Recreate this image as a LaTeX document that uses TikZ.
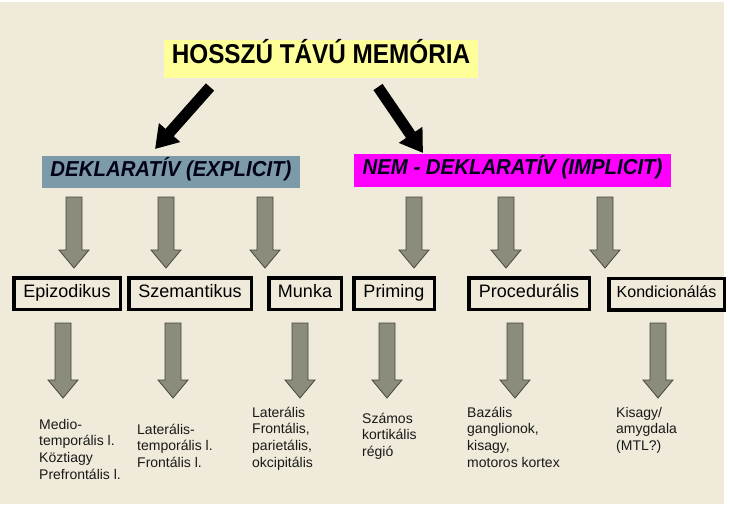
\documentclass[tikz,border=0pt]{standalone}
\usepackage{fontspec}
\setmainfont{Liberation Sans}
\usetikzlibrary{arrows.meta}
\definecolor{bg}{RGB}{239,234,217}
\definecolor{ttl}{RGB}{255,255,153}
\definecolor{slate}{RGB}{124,154,170}
\definecolor{mag}{RGB}{255,0,255}
\definecolor{garrow}{RGB}{140,140,124}
\definecolor{gline}{RGB}{70,70,60}
\begin{document}
\begin{tikzpicture}[x=1pt,y=-1pt,
  headbox/.style={inner sep=0pt,text height=0.8em,text depth=0pt},
  catbox/.style={draw=black,line width=3.5pt,minimum height=31.5pt,inner sep=0pt,
    text height=0.716em,text depth=0pt,font=\fontsize{18}{20}\selectfont},
  region/.style={anchor=north west,align=left,inner sep=0pt,text=black!90,
    font=\fontsize{14}{16.7}\selectfont},
  bigarrow/.style={line width=11pt,-{Triangle[length=22pt,width=27pt]}},
  downarrow/.pic={\draw[fill=garrow,draw=gline,line width=0.8pt]
    (-8,0) -- (8,0) -- (8,#1) -- (15,#1) -- (0,#1+18) -- (-15,#1) -- (-8,#1) -- cycle;}
]
\useasboundingbox (0,0) rectangle (730,504);
\fill[white] (0,0) rectangle (730,504);
\fill[bg] (0,2) rectangle (724,504);

% top level
\node[headbox,fill=ttl,minimum width=314pt,minimum height=38pt,
  font=\bfseries\fontsize{24.3}{26}\selectfont] (ltm) at (321,59) {\scalebox{1}[1.12]{HOSSZÚ TÁVÚ MEMÓRIA}};

% second level
\node[headbox,fill=slate,minimum width=258pt,minimum height=32pt,
  font=\bfseries\itshape\fontsize{20.4}{22}\selectfont,text=black!90!blue] (dek) at (171,172) {\scalebox{1}[1.06]{DEKLARATÍV (EXPLICIT)}};
\node[headbox,fill=mag,minimum width=317pt,minimum height=33pt,
  font=\bfseries\itshape\fontsize{20.4}{22}\selectfont,text=black!90!blue] (nemdek) at (512.5,170.5) {\scalebox{1}[1.06]{NEM - DEKLARATÍV (IMPLICIT)}};

% black arrows
\coordinate (la) at (210,87);
\coordinate (lb) at (155,149);
\coordinate (ra) at (378,87);
\coordinate (rb) at (423,153);
\draw[bigarrow] (la) -- (lb);
\draw[bigarrow] (ra) -- (rb);

% first row of grey arrows
\foreach \x in {74,166,265,414,506,605}
  \pic at (\x,197) {downarrow=53};

% third level boxes
\node[catbox,minimum width=106.5pt] (epi) at (67,293.5) {Epizodikus};
\node[catbox,minimum width=122.5pt] (szem) at (190,293.5) {Szemantikus};
\node[catbox,minimum width=72.5pt] (munka) at (305,293.5) {Munka};
\node[catbox,minimum width=80.5pt] (prim) at (394,293.5) {Priming};
\node[catbox,minimum width=120.5pt] (proc) at (529,293.5) {Procedurális};
\node[catbox,minimum width=115.5pt,font=\fontsize{16}{18}\selectfont] (kond) at (666.5,294) {Kondicionálás};

% second row of grey arrows
\foreach \x in {63,173,300,387,515,658}
  \pic at (\x,323) {downarrow=57};

% regions
\node[region] (r1) at (39,418.7) {Medio-\\temporális l.\\Köztiagy\\Prefrontális l.};
\node[region] (r2) at (137,423.7) {Laterális-\\temporális l.\\Frontális l.};
\node[region] (r3) at (252,406.7) {Laterális\\Frontális,\\parietális,\\okcipitális};
\node[region] (r4) at (362,412.7) {Számos\\kortikális\\régió};
\node[region] (r5) at (467,406.7) {Bazális\\ganglionok,\\kisagy,\\motoros kortex};
\node[region] (r6) at (616,406.7) {Kisagy/\\amygdala\\(MTL?)};
\end{tikzpicture}
\end{document}
